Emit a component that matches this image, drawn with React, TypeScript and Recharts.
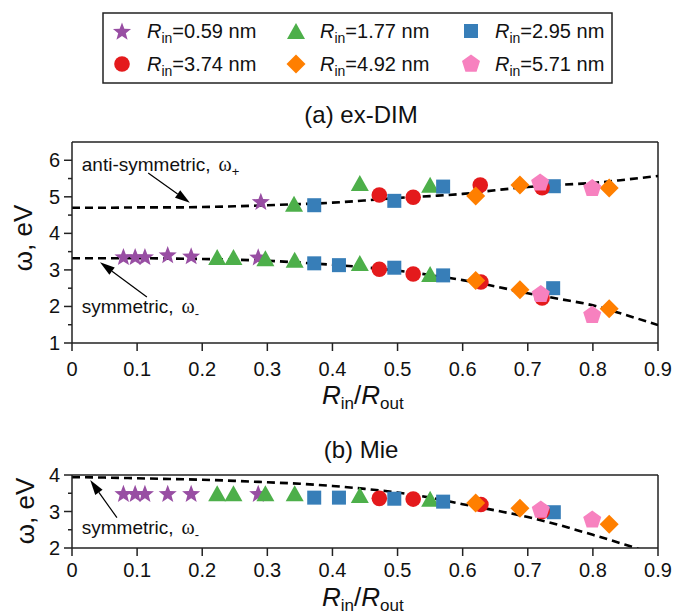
import React from 'react'
import { ComposedChart, Scatter, Line, XAxis, YAxis, ReferenceLine, ReferenceDot } from 'recharts'

const xTicks = [0, 0.1, 0.2, 0.3, 0.4, 0.5, 0.6, 0.7, 0.8, 0.9]
const dimYTicks = [1, 1.5, 2, 2.5, 3, 3.5, 4, 4.5, 5, 5.5, 6]
const mieYTicks = [2, 2.5, 3, 3.5, 4]

// dashed model curves, read every 0.05
const curveX = [0, 0.05, 0.1, 0.15, 0.2, 0.25, 0.3, 0.35, 0.4, 0.45, 0.5, 0.55, 0.6, 0.65, 0.7, 0.75, 0.8, 0.85, 0.9]
const dimPlusCurve = [4.7, 4.7, 4.71, 4.71, 4.72, 4.74, 4.77, 4.8, 4.84, 4.9, 4.97, 5.02, 5.08, 5.18, 5.27, 5.33, 5.38, 5.47, 5.57]
const dimMinusCurve = [3.32, 3.32, 3.32, 3.31, 3.3, 3.28, 3.25, 3.2, 3.14, 3.07, 2.98, 2.86, 2.72, 2.55, 2.36, 2.2, 2.03, 1.77, 1.49]
const mieCurve = [3.94, 3.93, 3.91, 3.89, 3.87, 3.84, 3.8, 3.76, 3.7, 3.62, 3.52, 3.38, 3.2, 3.03, 2.85, 2.62, 2.36, 2.09, 1.8]

// (a) ex-DIM points, [Rin/Rout, omega]
const dimStar = [[0.079, 3.37], [0.097, 3.37], [0.112, 3.37], [0.147, 3.42], [0.183, 3.39], [0.286, 3.36], [0.29, 4.88]]
const dimTriangle = [[0.223, 3.35], [0.248, 3.35], [0.297, 3.32], [0.342, 3.28], [0.442, 3.19], [0.55, 2.89], [0.341, 4.81], [0.442, 5.38], [0.55, 5.33]]
const dimSquare = [[0.372, 3.18], [0.41, 3.13], [0.495, 3.06], [0.57, 2.85], [0.739, 2.5], [0.372, 4.77], [0.495, 4.89], [0.57, 5.28], [0.74, 5.29]]
const dimCircle = [[0.472, 3.02], [0.524, 2.89], [0.628, 2.67], [0.722, 2.23], [0.472, 5.05], [0.524, 4.99], [0.627, 5.32], [0.722, 5.25]]
const dimDiamond = [[0.62, 2.71], [0.688, 2.46], [0.825, 1.94], [0.62, 5.02], [0.688, 5.32], [0.825, 5.24]]
const dimPentagon = [[0.72, 2.33], [0.799, 1.76], [0.719, 5.38], [0.799, 5.23]]

// (b) Mie points
const mieStar = [[0.079, 3.5], [0.097, 3.5], [0.112, 3.5], [0.147, 3.5], [0.183, 3.5], [0.286, 3.5]]
const mieTriangle = [[0.223, 3.5], [0.248, 3.5], [0.297, 3.5], [0.342, 3.5], [0.442, 3.45], [0.55, 3.35]]
const mieSquare = [[0.372, 3.38], [0.41, 3.38], [0.495, 3.35], [0.57, 3.27], [0.74, 2.98]]
const mieCircle = [[0.472, 3.36], [0.524, 3.34], [0.628, 3.19], [0.722, 3.0]]
const mieDiamond = [[0.62, 3.23], [0.688, 3.09], [0.825, 2.65]]
const miePentagon = [[0.72, 3.04], [0.799, 2.77]]

const radii = ['0.59', '1.77', '2.95', '3.74', '4.92', '5.71']
const kinds = ['star', 'triangle', 'square', 'circle', 'diamond', 'pentagon']
const colors = ['#984ea3', '#4daf4a', '#377eb8', '#e41a1c', '#ff7f00', '#f781bf']
const dimSets = [dimStar, dimTriangle, dimSquare, dimCircle, dimDiamond, dimPentagon]
const mieSets = [mieStar, mieTriangle, mieSquare, mieCircle, mieDiamond, miePentagon]

const AX = '#222'
const FONT = '"Liberation Sans", Arial, sans-serif'

const pts = (a: number[][]) => a.map(([x, y]) => ({ x, y }))
const curve = (ys: number[]) => curveX.map((x, i) => ({ x, y: ys[i] }))

const poly = (cx: number, cy: number, n: number, R: number, r?: number) => {
  const out: string[] = []
  const m = r ? n * 2 : n
  for (let i = 0; i < m; i++) {
    const a = -Math.PI / 2 + (i * 2 * Math.PI) / m
    const rad = r && i % 2 ? r : R
    out.push(`${cx + rad * Math.cos(a)},${cy + rad * Math.sin(a)}`)
  }
  return out.join(' ')
}

const Marker = ({ kind, cx, cy, fill }: any) => {
  if (cx == null || cy == null) return null
  switch (kind) {
    case 'star':
      return <polygon points={poly(cx, cy + 1, 5, 9.5, 4)} fill={fill} />
    case 'triangle':
      return <polygon points={`${cx},${cy - 8} ${cx - 9},${cy + 8} ${cx + 9},${cy + 8}`} fill={fill} />
    case 'square':
      return <rect x={cx - 7} y={cy - 7} width={14} height={14} fill={fill} />
    case 'circle':
      return <circle cx={cx} cy={cy} r={7.8} fill={fill} />
    case 'diamond':
      return <polygon points={`${cx},${cy - 9.5} ${cx + 9.5},${cy} ${cx},${cy + 9.5} ${cx - 9.5},${cy}`} fill={fill} />
    default:
      return <polygon points={poly(cx, cy, 5, 9.5)} fill={fill} />
  }
}

const makeXTick = (gap: number) => ({ x, y, payload }: any) => (
  <g>
    <line x1={x} x2={x} y1={y} y2={y + 8} stroke={AX} strokeWidth={1.5} />
    <text x={x} y={y + gap} textAnchor="middle" fontSize={20} fontFamily={FONT} fill="#111">
      {payload.value === 0 ? '0' : payload.value.toFixed(1)}
    </text>
  </g>
)

const YTick = ({ x, y, payload }: any) => {
  const major = Number.isInteger(payload.value)
  return (
    <g>
      <line x1={x - (major ? 8 : 4)} x2={x} y1={y} y2={y} stroke={AX} strokeWidth={1.5} />
      {major && (
        <text x={x - 12} y={y + 7} textAnchor="end" fontSize={20} fontFamily={FONT} fill="#111">
          {payload.value}
        </text>
      )}
    </g>
  )
}

const Arrow = (p: any) => {
  const { x1, y1, x2, y2 } = p
  const dx = x2 - x1
  const dy = y2 - y1
  const len = Math.sqrt(dx * dx + dy * dy)
  const ux = dx / len
  const uy = dy / len
  const bx = x2 - ux * 15
  const by = y2 - uy * 15
  const w = 4.5
  return (
    <g>
      <line x1={x1} y1={y1} x2={bx} y2={by} stroke="#000" strokeWidth={1.2} />
      <polygon points={`${x2},${y2} ${bx - uy * w},${by + ux * w} ${bx + uy * w},${by - ux * w}`} fill="#000" />
    </g>
  )
}

const note = (label: string, sub: string) => (p: any) => (
  <text x={p.cx} y={p.cy} fontSize={19} fontFamily={FONT} fill="#111">
    {label}
    <tspan dx={8} fontFamily='"Liberation Serif", serif' fontSize={20}>ω</tspan>
    <tspan dy={5} fontSize={13}>{sub}</tspan>
  </text>
)

const axisProps = {
  tickSize: 0,
  tickMargin: 0,
  tickLine: false,
  interval: 0 as const,
  axisLine: { stroke: AX, strokeWidth: 1.5 },
}

const Series = (sets: number[][][]) =>
  sets.map((s, i) => (
    <Scatter
      key={radii[i]}
      name={radii[i]}
      data={pts(s)}
      fill={colors[i]}
      isAnimationActive={false}
      shape={(p: any) => <Marker kind={kinds[i]} cx={p.cx} cy={p.cy} fill={colors[i]} />}
    />
  ))

const dash = { stroke: '#000', strokeWidth: 2.6, strokeDasharray: '8 5', dot: false, isAnimationActive: false, type: 'monotone' as const }

const DimChart = () => (
  <ComposedChart width={675} height={280} margin={{ top: 22, right: 17, bottom: 17, left: 0 }}>
    <XAxis type="number" dataKey="x" domain={[0, 0.9]} ticks={xTicks} tick={makeXTick(33)} height={40} allowDataOverflow {...axisProps} />
    <YAxis type="number" dataKey="y" domain={[1, 6.5]} ticks={dimYTicks} tick={YTick} width={72} allowDataOverflow {...axisProps} />
    <ReferenceLine y={6.5} stroke={AX} strokeWidth={1.5} />
    <ReferenceLine x={0.9} stroke={AX} strokeWidth={1.5} />
    <Line data={curve(dimPlusCurve)} dataKey="y" {...dash} />
    <Line data={curve(dimMinusCurve)} dataKey="y" {...dash} />
    {Series(dimSets)}
    <ReferenceLine segment={[{ x: 0.117, y: 5.65 }, { x: 0.181, y: 4.84 }]} shape={Arrow} ifOverflow="visible" />
    <ReferenceLine segment={[{ x: 0.115, y: 2.26 }, { x: 0.043, y: 3.21 }]} shape={Arrow} ifOverflow="visible" />
    <ReferenceDot x={0.015} y={5.7} r={0} shape={note('anti-symmetric,', '+')} ifOverflow="visible" />
    <ReferenceDot x={0.015} y={1.81} r={0} shape={note('symmetric,', '-')} ifOverflow="visible" />
  </ComposedChart>
)

const MieChart = () => (
  <ComposedChart width={675} height={161} margin={{ top: 20, right: 17, bottom: 28, left: 0 }}>
    <XAxis type="number" dataKey="x" domain={[0, 0.9]} ticks={xTicks} tick={makeXTick(29)} height={40} allowDataOverflow {...axisProps} />
    <YAxis type="number" dataKey="y" domain={[2, 4]} ticks={mieYTicks} tick={YTick} width={72} allowDataOverflow {...axisProps} />
    <ReferenceLine y={4} stroke={AX} strokeWidth={1.5} />
    <ReferenceLine x={0.9} stroke={AX} strokeWidth={1.5} />
    <Line data={curve(mieCurve)} dataKey="y" {...dash} />
    {Series(mieSets)}
    <ReferenceLine segment={[{ x: 0.069, y: 2.83 }, { x: 0.028, y: 3.86 }]} shape={Arrow} ifOverflow="visible" />
    <ReferenceDot x={0.015} y={2.39} r={0} shape={note('symmetric,', '-')} ifOverflow="visible" />
  </ComposedChart>
)

const legendCx = [122, 296, 471]
const legendTx = [147, 320, 495]
const legendCy = [31, 64]

const RLabel = ({ x, y }: { x: number; y: number }) => (
  <text x={x} y={y} fontSize={26} fontFamily={FONT} fill="#111">
    <tspan fontStyle="italic">R</tspan>
    <tspan fontSize={17} dy={5}>in</tspan>
    <tspan dy={-5}>/</tspan>
    <tspan fontStyle="italic">R</tspan>
    <tspan fontSize={17} dy={5}>out</tspan>
  </text>
)

export default function App() {
  return (
    <div style={{ position: 'absolute', left: 0, top: 0, width: 675, height: 616, background: '#fff', fontFamily: FONT }}>
      <div style={{ position: 'absolute', left: 0, top: 120 }}>
        <DimChart />
      </div>
      <div style={{ position: 'absolute', left: 0, top: 455 }}>
        <MieChart />
      </div>
      <svg width={675} height={616} style={{ position: 'absolute', left: 0, top: 0, pointerEvents: 'none' }}>
        <rect x={103} y={13} width={509} height={70} fill="none" stroke={AX} strokeWidth={1.5} />
        {radii.map((r, i) => {
          const col = i % 3
          const row = Math.floor(i / 3)
          return (
            <g key={r}>
              <Marker kind={kinds[i]} cx={legendCx[col]} cy={legendCy[row]} fill={colors[i]} />
              <text x={legendTx[col]} y={legendCy[row] + 7} fontSize={20} fontFamily={FONT} fill="#111">
                <tspan fontStyle="italic">R</tspan>
                <tspan fontSize={14} dy={5}>in</tspan>
                <tspan dy={-5}>={r} nm</tspan>
              </text>
            </g>
          )
        })}
        <text x={361} y={123} textAnchor="middle" fontSize={24} fontFamily={FONT} fill="#111">(a) ex-DIM</text>
        <text x={361} y={458} textAnchor="middle" fontSize={24} fontFamily={FONT} fill="#111">(b) Mie</text>
        <RLabel x={322} y={404} />
        <RLabel x={322} y={606} />
        <text x={32} y={238} transform="rotate(-90 32 238)" textAnchor="middle" fontSize={26} fontFamily={FONT} fill="#111">ω, eV</text>
        <text x={34} y={511} transform="rotate(-90 34 511)" textAnchor="middle" fontSize={26} fontFamily={FONT} fill="#111">ω, eV</text>
      </svg>
    </div>
  )
}
